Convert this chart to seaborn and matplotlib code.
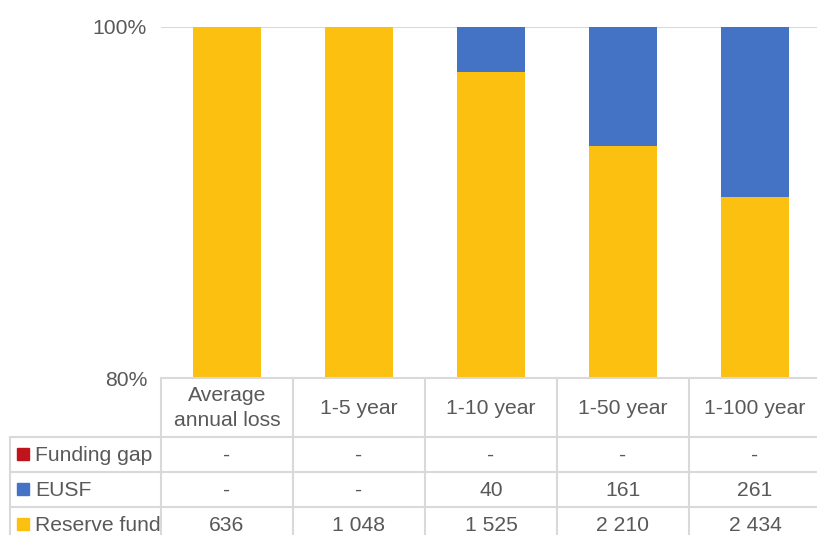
import numpy as np
import pandas as pd
import seaborn as sns
import matplotlib.pyplot as plt
import matplotlib.transforms as mtransforms
from matplotlib.lines import Line2D
from matplotlib.patches import Rectangle

# donnees du graphique
categories = ["Average\nannual loss", "1-5 year", "1-10 year", "1-50 year", "1-100 year"]
series = ["Funding gap", "EUSF", "Reserve fund"]
funding_gap = [0, 0, 0, 0, 0]
eusf = [0, 0, 40, 161, 261]
reserve_fund = [636, 1048, 1525, 2210, 2434]
colors = {"Funding gap": "#C0141C", "EUSF": "#4472C4", "Reserve fund": "#FBC010"}

df = pd.DataFrame({"cat": categories, "Funding gap": funding_gap,
                   "EUSF": eusf, "Reserve fund": reserve_fund})
total = df[series].sum(axis=1)
# parts cumulees en %
df["cum_reserve"] = df["Reserve fund"] / total * 100
df["cum_eusf"] = (df["Reserve fund"] + df["EUSF"]) / total * 100
df["cum_gap"] = (df["Reserve fund"] + df["EUSF"] + df["Funding gap"]) / total * 100

sns.set_style("white")
plt.rcParams["font.family"] = ["Liberation Sans", "DejaVu Sans"]
txt = "#595959"
grid = "#D9D9D9"
fs = 15.2

W, H = 817, 535
fig = plt.figure(figsize=(W / 100, H / 100), dpi=100)
def fx(x):
    return x / W
def fy(y):
    return 1 - y / H

ax = fig.add_axes([fx(161), fy(378), fx(821) - fx(161), fy(27) - fy(378)])

for col, s in [("cum_gap", "Funding gap"), ("cum_eusf", "EUSF"), ("cum_reserve", "Reserve fund")]:
    sns.barplot(data=df, x="cat", y=col, color=colors[s], saturation=1,
                width=0.515, linewidth=0, ax=ax)

ax.set_ylim(80, 100)
ax.set_xlim(-0.5, len(categories) - 0.5)
ax.set_yticks([80, 100])
ax.set_yticklabels(["80%", "100%"])
ax.tick_params(axis="y", labelsize=fs, colors=txt, length=0, pad=10)
ax.set_xticks([])
ax.set_xlabel("")
ax.set_ylabel("")
for sp in ax.spines.values():
    sp.set_visible(False)
ax.axhline(100, color=grid, lw=1.5, zorder=0)

# tableau de donnees sous le graphique
tr = mtransforms.blended_transform_factory(ax.transData, fig.transFigure)
lw = 1.5
def hline(x0, x1, y):
    fig.add_artist(Line2D([fx(x0), fx(x1)], [fy(y), fy(y)], color=grid, lw=lw))
def vline(x, y0, y1):
    fig.add_artist(Line2D([fx(x), fx(x)], [fy(y0), fy(y1)], color=grid, lw=lw))

hline(161, 821, 378)
for y in [437, 472, 507]:
    hline(10, 821, y)
vline(10, 437, 540)
n = len(categories)
for i in range(n + 1):
    xpix = ax.transData.transform((i - 0.5, 0))[0]
    vline(xpix, 378, 540)

for i, c in enumerate(categories):
    fig.text(i, fy(408), c, transform=tr, ha="center", va="center",
             fontsize=fs, color=txt, linespacing=1.4)

rows = [("Funding gap", funding_gap, 454), ("EUSF", eusf, 489), ("Reserve fund", reserve_fund, 524)]
for name, vals, yc in rows:
    fig.add_artist(Rectangle((fx(17), fy(yc + 6)), fx(12), fy(yc - 6) - fy(yc + 6),
                             color=colors[name], transform=fig.transFigure))
    fig.text(fx(35), fy(yc + 1.5), name, ha="left", va="center", fontsize=fs, color=txt)
    for i, v in enumerate(vals):
        lab = "-" if v == 0 else f"{v:,}".replace(",", " ")
        fig.text(i, fy(yc + 1.5), lab, transform=tr, ha="center", va="center",
                 fontsize=fs, color=txt)

fig.savefig("out.png", dpi=100)
